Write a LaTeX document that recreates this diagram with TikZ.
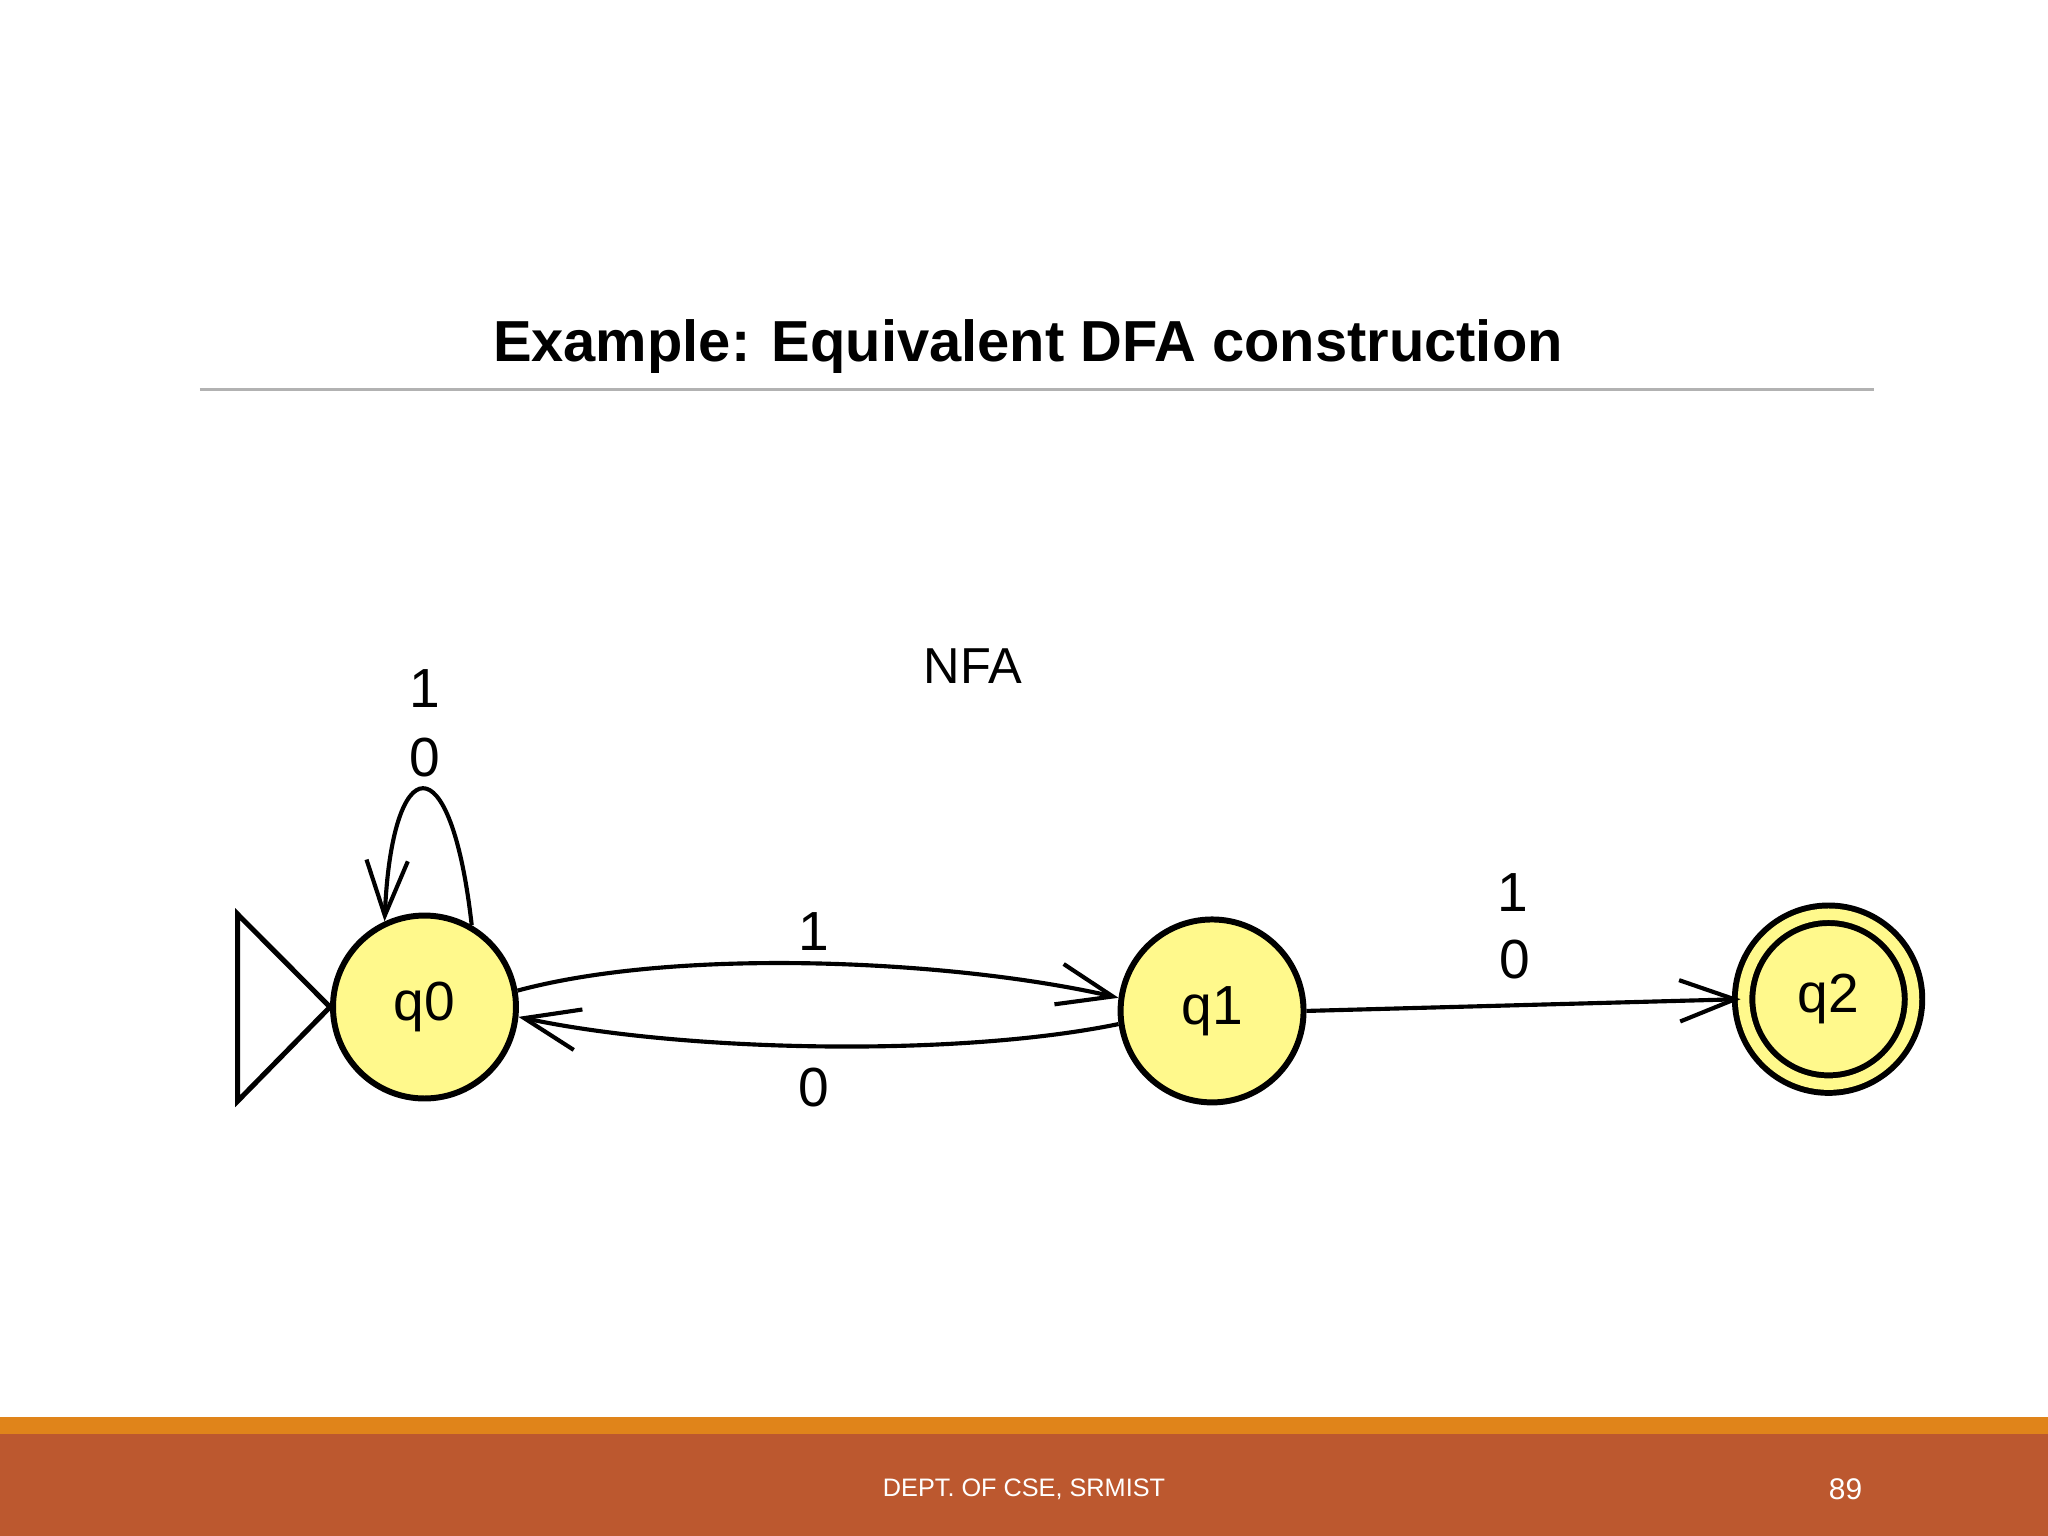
\documentclass[tikz,border=0pt]{standalone}
\usepackage{fontspec}
\setmainfont{Liberation Sans}
\usetikzlibrary{arrows.meta}
\begin{document}
\begin{tikzpicture}[x=0.01cm,y=-0.01cm,
  st/.style={circle,draw,line width=1.3pt,fill=yellow!45,minimum size=1.4cm,inner sep=0pt,font=\fontsize{12}{14}\selectfont},
  lbl/.style={font=\fontsize{12}{14}\selectfont},
  tr/.style={line width=0.9pt,-{Straight Barb[length=12pt,width=9pt,line width=0.9pt]}}]
\useasboundingbox (0,0) rectangle (1568,1176);
\fill[white] (0,0) rectangle (1568,1176);
\node[font=\bfseries\fontsize{12.6}{15}\selectfont] (title) at (787,265) {Example: Equivalent DFA construction};
\draw[gray!60,line width=0.6pt] (153,298) -- (1435,298);
\node[font=\fontsize{11}{13}\selectfont] (nfa) at (745,510) {NFA};
\node[st] (q0) at (325,771) {q0};
\node[st] (q1) at (928,774) {q1};
\node[st,minimum size=1.3cm,double=yellow!45,double distance=2.5pt] (q2) at (1400,765) {q2};
\draw[line width=1.1pt] (182,700) -- (182,843) -- (q0.west) -- cycle;
\draw[tr] (q0.60) .. controls (345,565) and (300,575) .. (q0.115);
\node[lbl] (l1) at (325,527) {1};
\node[lbl] (l2) at (325,580) {0};
\draw[tr] (q0.10) .. controls (520,725) and (730,735) .. (q1.172);
\node[lbl] (l3) at (623,713) {1};
\draw[tr] (q1.188) .. controls (730,810) and (520,805) .. (q0.354);
\node[lbl] (l4) at (623,833) {0};
\draw[tr] (q1.east) -- (q2.west);
\node[lbl] (l5) at (1158,683) {1};
\node[lbl] (l6) at (1160,735) {0};
\fill[fill={rgb,255:red,188;green,88;blue,47}] (0,1098) rectangle (1568,1176);
\fill[fill={rgb,255:red,224;green,132;blue,26}] (0,1085) rectangle (1568,1098);
\node[white,font=\fontsize{5.5}{7}\selectfont] (ft) at (784,1140) {DEPT. OF CSE, SRMIST};
\node[white,font=\fontsize{6.5}{8}\selectfont] (pg) at (1413,1140) {89};
\end{tikzpicture}
\end{document}
